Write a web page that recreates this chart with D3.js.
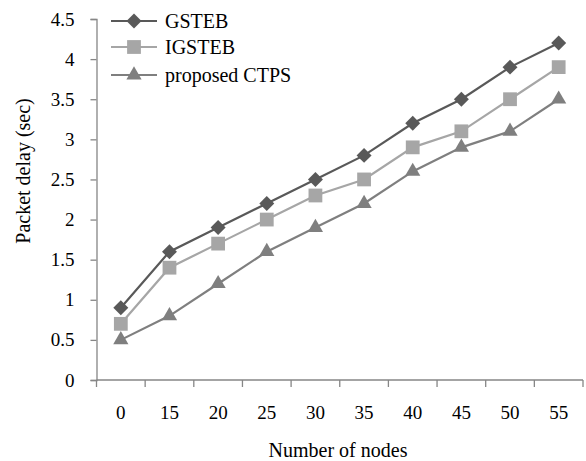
<!DOCTYPE html>
<html><head><meta charset="utf-8">
<script src="https://cdn.jsdelivr.net/npm/d3@7"></script>
<style>body{margin:0;background:#fff}svg{display:block}text{font-family:"Liberation Serif","Times New Roman",serif;fill:#000}</style>
</head><body><svg id="c" width="586" height="461"></svg>
<script>
const categories = ["0","15","20","25","30","35","40","45","50","55"];
const gsteb = [0.9,1.6,1.9,2.2,2.5,2.8,3.2,3.5,3.9,4.2];
const igsteb = [0.7,1.4,1.7,2.0,2.3,2.5,2.9,3.1,3.5,3.9];
const ctps = [0.5,0.8,1.2,1.6,1.9,2.2,2.6,2.9,3.1,3.5];
const seriesNames = ["GSTEB","IGSTEB","proposed CTPS"];
const yTicks = [0,0.5,1,1.5,2,2.5,3,3.5,4,4.5];

const series = [
  {name: seriesNames[0], values: gsteb, color: "#595959", shape: d3.symbolSquare, size: 112, rot: 45},
  {name: seriesNames[1], values: igsteb, color: "#a6a6a6", shape: d3.symbolSquare, size: 190, rot: 0},
  {name: seriesNames[2], values: ctps, color: "#7f7f7f", shape: d3.symbolTriangle, size: 100, rot: 0}
];

const svg = d3.select("#c");
const x = d3.scaleBand().domain(categories).range([96.5, 583]);
const y = d3.scaleLinear().domain([0,4.5]).range([380, 19]);
const axisColor = "#868686";

// y axis
const ya = svg.append("g").attr("transform","translate(96.5,0)")
  .call(d3.axisLeft(y).tickValues(yTicks).tickSize(6).tickPadding(16).tickFormat(d=>String(d)));
ya.select(".domain").attr("stroke",axisColor).attr("stroke-width",1.3);
ya.selectAll(".tick line").attr("stroke",axisColor).attr("stroke-width",1.3);
ya.selectAll(".tick text").attr("font-size",19).attr("font-family","Liberation Serif").attr("fill","#000");

// x axis
const xa = svg.append("g").attr("transform","translate(0,380)")
  .call(d3.axisBottom(x).tickSize(0).tickPadding(26));
xa.select(".domain").attr("stroke",axisColor).attr("stroke-width",1.3).attr("d","M96.5,0H583");
xa.selectAll(".tick text").attr("font-size",19).attr("font-family","Liberation Serif").attr("fill","#000");
// boundary ticks between categories
const bounds = categories.map(c=>x(c)).concat([x(categories[categories.length-1])+x.bandwidth()]);
svg.append("g").selectAll("line").data(bounds).join("line")
  .attr("x1",d=>d).attr("x2",d=>d).attr("y1",380).attr("y2",387)
  .attr("stroke",axisColor).attr("stroke-width",1.3);

// titles
svg.append("text").attr("x",338).attr("y",457).attr("text-anchor","middle").attr("font-size",20).text("Number of nodes");
svg.append("text").attr("transform","translate(30,171) rotate(-90)").attr("text-anchor","middle").attr("font-size",20).text("Packet delay (sec)");

// lines
const line = d3.line().x((d,i)=>x(categories[i])+x.bandwidth()/2).y(d=>y(d));
series.forEach(s=>{
  svg.append("path").datum(s.values).attr("d",line).attr("fill","none").attr("stroke",s.color).attr("stroke-width",2.2);
  svg.append("g").selectAll("path").data(s.values).join("path")
    .attr("d",d3.symbol().type(s.shape).size(s.size))
    .attr("transform",(d,i)=>`translate(${x(categories[i])+x.bandwidth()/2},${y(d)}) rotate(${s.rot})`)
    .attr("fill",s.color);
});

// legend
const ly = [21,47,75];
series.forEach((s,i)=>{
  const g = svg.append("g").attr("transform",`translate(0,${ly[i]})`);
  g.append("line").attr("x1",111).attr("x2",157).attr("y1",0).attr("y2",0).attr("stroke",s.color).attr("stroke-width",2.2);
  g.append("path").attr("d",d3.symbol().type(s.shape).size(s.size)).attr("transform",`translate(134,0) rotate(${s.rot})`).attr("fill",s.color);
  g.append("text").attr("x",165).attr("y",6.5).attr("font-size",20).text(s.name);
});
</script></body></html>
